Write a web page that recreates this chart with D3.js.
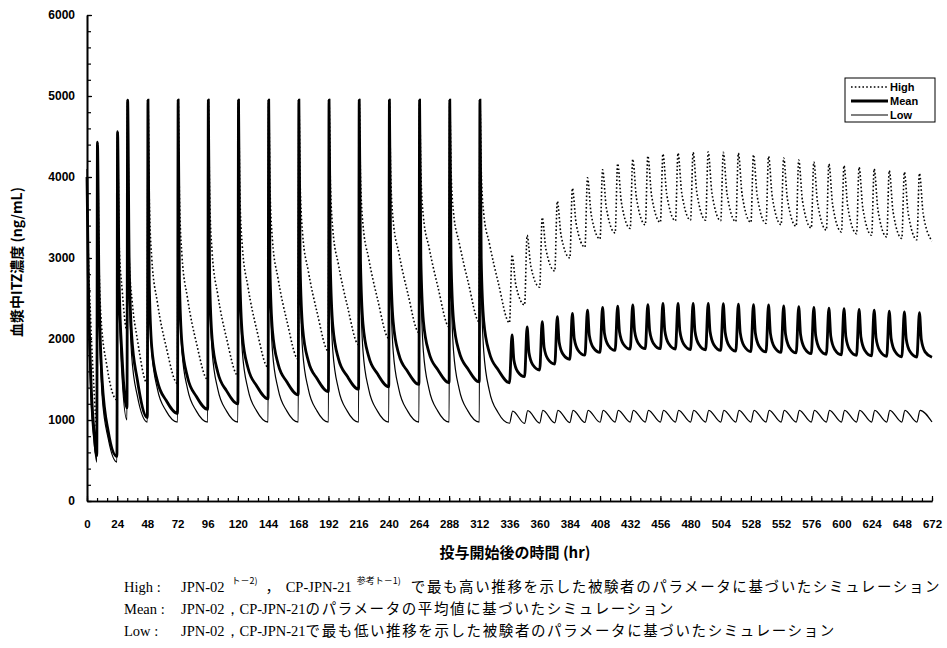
<!DOCTYPE html>
<html><head><meta charset="utf-8">
<script src="https://cdn.jsdelivr.net/npm/d3@7"></script>
<style>
body{margin:0;background:#fff;}
svg{display:block;}
</style></head><body>
<svg id="chart" width="947" height="648"></svg>
<script>
// ---------------- DATA ----------------
const seriesNames = ["High", "Mean", "Low"];
const xTickLabels = [0,24,48,72,96,120,144,168,192,216,240,264,288,312,336,360,384,408,432,456,480,504,528,552,576,600,624,648,672];
const yTickLabels = [0,1000,2000,3000,4000,5000,6000];

// early loading period (hr, ng/mL)
const highEarly = [[0,3900],[1,3100],[3,2200],[5.5,1400],[7.8,900],[8.3,4400],[9.5,3000],[11,2300],[16,1650],[23.8,1250],[24.3,4550],[25.5,3200],[28,2600],[31.8,2100],[32.3,4930],[33.5,3000],[36,2450],[40,2000],[48,1450]];
const meanEarly = [[0,4000],[1,2800],[3,1550],[5.5,880],[7.8,560],[8.3,4430],[9.5,2700],[12,1500],[17,850],[23.8,550],[24.3,4560],[25.5,2750],[28,1750],[31.8,1150],[32.3,4950],[33.5,3000],[35.5,2050],[40,1500],[48,1030]];
const lowEarly  = [[0,4100],[1,2600],[3,1300],[5.5,750],[7.8,480],[8.3,4430],[9.5,2500],[12,1300],[17,760],[23.8,480],[24.3,4560],[25.5,2600],[28,1500],[31.8,1000],[32.3,4950],[33.5,2700],[35.5,1800],[40,1300],[48,975]];

// once-daily IV period: dose hours, knot offsets (hr after dose), knot values per cycle
const ivDoseHours = [48,72,96,120,144,168,192,216,240,264,288,312];
const ivOffsets = [0.5,1.5,3.5,8,15,24];
const highIV = [
  [4930,3750,3000,2450,1900,1450],
  [4930,3773,3037,2499,1953,1500],
  [4930,3797,3073,2547,2007,1550],
  [4930,3843,3147,2645,2113,1650],
  [4930,3890,3220,2742,2220,1750],
  [4930,3937,3293,2839,2327,1850],
  [4930,3974,3352,2917,2412,1930],
  [4930,4011,3411,2995,2497,2010],
  [4930,4044,3462,3063,2572,2080],
  [4930,4077,3513,3131,2647,2150],
  [4930,4100,3557,3189,2711,2210],
  [4930,4100,3550,3180,2700,2200]];
const meanIV = [
  [4950,2700,1900,1480,1240,1080],
  [4950,2740,1945,1525,1290,1130],
  [4950,2790,2005,1590,1360,1200],
  [4950,2840,2055,1645,1420,1260],
  [4950,2880,2100,1690,1470,1310],
  [4950,2910,2135,1730,1510,1350],
  [4950,2935,2160,1755,1540,1380],
  [4950,2960,2185,1785,1570,1410],
  [4950,2985,2210,1810,1600,1440],
  [4950,3000,2225,1830,1620,1460],
  [4950,3005,2230,1840,1630,1470],
  [4950,3000,2225,1830,1620,1460]];
const lowIV = [
  [4950,2700,1850,1380,1110,975],
  [4960,2700,1850,1380,1110,975],
  [4960,2700,1850,1380,1110,975],
  [4960,2700,1850,1380,1110,975],
  [4960,2700,1850,1380,1110,975],
  [4960,2700,1850,1380,1110,975],
  [4960,2700,1850,1380,1110,975],
  [4960,2700,1850,1380,1110,975],
  [4960,2700,1850,1380,1110,975],
  [4960,2700,1850,1380,1110,975],
  [4960,2700,1850,1380,1110,975],
  [4950,2700,1850,1360,1090,960]];

// twice-daily oral period
const oralDoseHours = [336,348,360,372,384,396,408,420,432,444,456,468,480,492,504,516,528,540,552,564,576,588,600,612,624,636,648,660];
const highOralOffsets = [2,5,12];
const highOralPeak = [3040,3280,3500,3700,3860,3990,4090,4165,4220,4260,4285,4295,4305,4310,4305,4295,4275,4255,4235,4210,4185,4160,4140,4120,4100,4080,4060,4045];
const highOralMid  = [2670,2895,3105,3280,3425,3535,3620,3685,3735,3770,3790,3800,3805,3800,3790,3780,3765,3750,3730,3705,3680,3655,3635,3615,3595,3575,3560,3545];
const highOralTrough = [2420,2640,2840,3000,3135,3235,3310,3365,3410,3440,3460,3468,3468,3460,3450,3440,3428,3412,3392,3370,3345,3322,3300,3280,3260,3242,3225,3210];
const meanOralOffsets = [2,3.5,6.5,12];
const meanOralPeak = [2050,2150,2215,2275,2315,2355,2390,2405,2420,2425,2440,2440,2440,2440,2435,2430,2425,2420,2410,2400,2390,2380,2375,2365,2355,2345,2335,2325];
const meanOralMid1 = [1741,1830,1900,1960,2006,2043,2072,2087,2096,2098,2101,2098,2095,2092,2084,2079,2074,2069,2061,2052,2043,2035,2029,2021,2014,2007,2001,1995];
const meanOralMid2 = [1597,1681,1753,1813,1862,1897,1924,1939,1945,1945,1943,1938,1934,1930,1920,1915,1910,1905,1898,1890,1881,1874,1867,1861,1854,1849,1845,1841];
const meanOralTrough = [1535,1617,1690,1750,1800,1835,1860,1875,1880,1880,1875,1870,1865,1860,1850,1845,1840,1835,1828,1820,1812,1805,1798,1792,1786,1781,1778,1775];
const lowOralOffsets = [2.5,12];
const lowOralPeak = [1110,1115,1118,1120,1120,1120,1120,1120,1120,1120,1120,1120,1120,1120,1120,1120,1120,1120,1120,1120,1120,1120,1120,1120,1120,1120,1120,1120];
const lowOralTrough = [958,962,965,968,970,972,975,975,975,975,975,975,975,975,975,975,975,975,975,975,975,975,975,975,975,975,975,975];

// footnote texts
const noteLabels = ["High :", "Mean :", "Low :"];
const noteText = [
  [["JPN-02", "s"], ["ト－2)", "sup"], ["，", "c"], ["CP-JPN-21", "s"], ["参考ト－1)", "sup"], ["で最も高い推移を示した被験者のパラメータに基づいたシミュレーション", "c"]],
  [["JPN-02，CP-JPN-21", "s"], ["のパラメータの平均値に基づいたシミュレーション", "c"]],
  [["JPN-02，CP-JPN-21", "s"], ["で最も低い推移を示した被験者のパラメータに基づいたシミュレーション", "c"]]];

// ---------------- BUILD ----------------
function build(early, ivRows, oralCols, oralOffsets) {
  const pts = early.map(d => ({t: d[0], v: d[1]}));
  ivDoseHours.forEach((h, i) => ivOffsets.forEach((o, j) => pts.push({t: h + o, v: ivRows[i][j]})));
  oralDoseHours.forEach((h, i) => oralOffsets.forEach((o, j) => pts.push({t: h + o, v: oralCols[j][i]})));
  return pts;
}
const highPts = build(highEarly, highIV, [highOralPeak, highOralMid, highOralTrough], highOralOffsets);
const meanPts = build(meanEarly, meanIV, [meanOralPeak, meanOralMid1, meanOralMid2, meanOralTrough], meanOralOffsets);
const lowPts  = build(lowEarly, lowIV, [lowOralPeak, lowOralTrough], lowOralOffsets);

// ---------------- DRAW ----------------
const svg = d3.select("#chart");
const x = d3.scaleLinear().domain([0, 672]).range([87, 932]);
const y = d3.scaleLinear().domain([0, 6000]).range([501, 15]);
const sansB = '"Liberation Sans", Arial, sans-serif';

const line = d3.line().x(d => x(d.t)).y(d => y(d.v)).curve(d3.curveMonotoneX);

const gLines = svg.append("g");
gLines.append("path").datum(highPts).attr("d", line).attr("fill", "none").attr("stroke", "#000").attr("stroke-width", 1.6).attr("stroke-dasharray", "1.6 2.2");
gLines.append("path").datum(meanPts).attr("d", line).attr("fill", "none").attr("stroke", "#000").attr("stroke-width", 2.8);
gLines.append("path").datum(lowPts).attr("d", line).attr("fill", "none").attr("stroke", "#000").attr("stroke-width", 1.2);

// X axis
const xMinor = d3.axisBottom(x).tickValues(d3.range(0, 673, 8)).tickSizeInner(-3).tickSizeOuter(0).tickFormat("");
svg.append("g").attr("transform", "translate(0,501)").call(xMinor);
const xMajor = d3.axisBottom(x).tickValues(xTickLabels).tickSizeInner(-5).tickSizeOuter(0).tickPadding(19).tickFormat(d3.format("d"));
const gx = svg.append("g").attr("transform", "translate(0,501)").call(xMajor);
gx.selectAll("text").attr("font-family", sansB).attr("font-weight", "bold").attr("font-size", 11.5).attr("fill", "#000");

// Y axis
const yMinor = d3.axisLeft(y).tickValues(d3.range(0, 6001, 200)).tickSizeInner(-4).tickSizeOuter(0).tickFormat("");
svg.append("g").attr("transform", "translate(87,0)").call(yMinor);
const yMajor = d3.axisLeft(y).tickValues(yTickLabels).tickSizeInner(-5).tickSizeOuter(0).tickPadding(12).tickFormat(d3.format("d"));
const gy = svg.append("g").attr("transform", "translate(87,0)").call(yMajor);
gy.selectAll("text").attr("font-family", sansB).attr("font-weight", "bold").attr("font-size", 12).attr("fill", "#000");

svg.selectAll(".domain").attr("stroke", "#000").attr("stroke-width", 1.6);
svg.selectAll(".tick line").attr("stroke", "#000").attr("stroke-width", 1.2);

// Axis titles
svg.append("text").attr("x", 515).attr("y", 558).attr("text-anchor", "middle")
  .attr("font-family", '"Noto Sans CJK JP", sans-serif').attr("font-weight", "bold").attr("font-size", 15)
  .text("投与開始後の時間 (hr)");
svg.append("text").attr("transform", "translate(22,262) rotate(-90)").attr("text-anchor", "middle")
  .attr("font-family", '"Noto Sans CJK JP", sans-serif').attr("font-weight", "bold").attr("font-size", 14)
  .text("血漿中ITZ濃度 (ng/mL)");

// Legend
const lg = svg.append("g");
lg.append("rect").attr("x", 845).attr("y", 78).attr("width", 90).attr("height", 44).attr("fill", "#fff").attr("stroke", "#000").attr("stroke-width", 1);
const legendStyles = [
  {w: 1.6, dash: "1.6 2.2"},
  {w: 3, dash: null},
  {w: 1.2, dash: null}];
seriesNames.forEach((name, i) => {
  const yy = 87 + i * 14;
  lg.append("line").attr("x1", 851).attr("x2", 888).attr("y1", yy).attr("y2", yy)
    .attr("stroke", "#000").attr("stroke-width", legendStyles[i].w).attr("stroke-dasharray", legendStyles[i].dash);
  lg.append("text").attr("x", 890).attr("y", yy + 4).attr("font-family", sansB).attr("font-weight", "bold")
    .attr("font-size", 11).text(name);
});

// Footnotes
const serif = '"Liberation Serif", "Times New Roman", serif';
const cjk = '"Noto Sans CJK JP", sans-serif';
const supGap = [7, 5];
noteLabels.forEach((lab, i) => {
  const yy = 592 + i * 22;
  svg.append("text").attr("x", 124).attr("y", yy).attr("font-family", serif).attr("font-size", 14.5).text(lab);
  const t = svg.append("text").attr("x", 181).attr("y", yy);
  let supCount = 0;
  noteText[i].forEach(([s, kind], k) => {
    const sp = t.append("tspan").text(s);
    if (kind === "s") sp.attr("font-family", serif).attr("font-size", 14.5);
    else if (kind === "sup") { sp.attr("font-family", cjk).attr("font-size", 9).attr("dx", supGap[supCount]).attr("dy", -8); supCount++; }
    else sp.attr("font-family", cjk).attr("font-size", 14.5).attr("letter-spacing", 1.6);
    // return to baseline after a superscript
    if (k > 0 && noteText[i][k - 1][1] === "sup") sp.attr("dy", 8).attr("dx", k === 2 ? 8 : 10);
    if (s === "CP-JPN-21") sp.attr("dx", 4);
  });
});
</script>
</body></html>
